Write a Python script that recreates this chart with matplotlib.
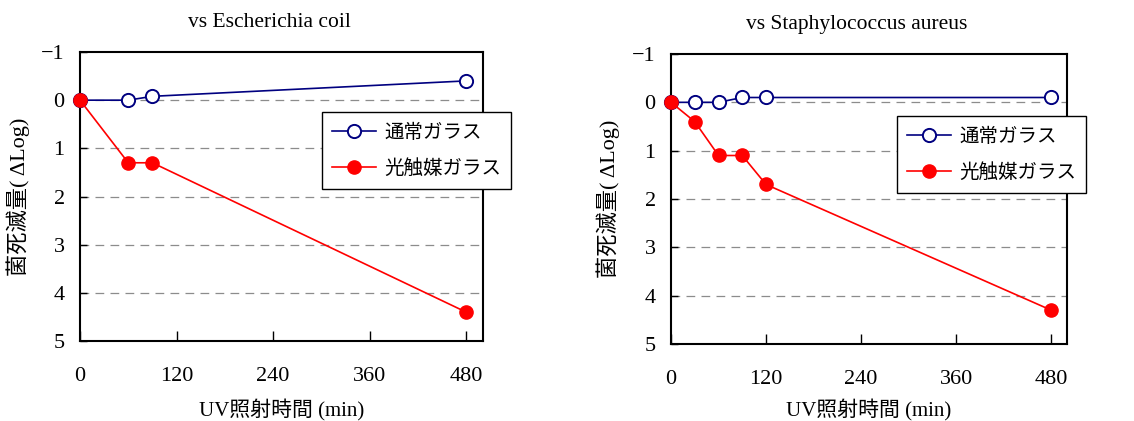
import matplotlib
matplotlib.use("Agg")
import matplotlib.pyplot as plt

plt.rcParams['font.family'] = ['Liberation Serif', 'Noto Sans CJK JP', 'DejaVu Sans']

# data
titles = ["vs Escherichia coil", "vs Staphylococcus aureus"]
ecoli_t_normal = [0, 60, 90, 480]
ecoli_normal = [0, 0, -0.08, -0.4]
ecoli_t_photo = [0, 60, 90, 480]
ecoli_photo = [0, 1.3, 1.3, 4.4]
staph_t_normal = [0, 30, 60, 90, 120, 480]
staph_normal = [0, 0, 0, -0.1, -0.1, -0.1]
staph_t_photo = [0, 30, 60, 90, 120, 480]
staph_photo = [0, 0.4, 1.1, 1.1, 1.7, 4.3]
label_normal = "通常ガラス"
label_photo = "光触媒ガラス"
xticks = [0, 120, 240, 360, 480]
yticks = [-1, 0, 1, 2, 3, 4, 5]
grid_levels = [0, 1, 2, 3, 4]

W, H = 1134, 421
fig = plt.figure(figsize=(W / 100, H / 100), dpi=100)

panels = [
    dict(rect=(80, 52, 483, 341), xmax=501, leg=(322, 112), ylab_x=30,
         tn=ecoli_t_normal, n=ecoli_normal, tp=ecoli_t_photo, p=ecoli_photo),
    dict(rect=(671, 54, 1067, 344), xmax=500, leg=(897, 116), ylab_x=620,
         tn=staph_t_normal, n=staph_normal, tp=staph_t_photo, p=staph_photo),
]

for title, pn in zip(titles, panels):
    l, t, r, b = pn["rect"]
    ax = fig.add_axes([l / W, 1 - b / H, (r - l) / W, (b - t) / H])
    for g in grid_levels:
        ax.axhline(g, color="#8c8c8c", lw=0.9, ls=(0, (7, 5)), zorder=1)
    h1, = ax.plot(pn["tn"], pn["n"], "-o", color="#000080", lw=1.2, ms=9.5, mfc="white",
                  mec="#000080", mew=1.4, label=label_normal, zorder=3, clip_on=False)
    h2, = ax.plot(pn["tp"], pn["p"], "-o", color="#ff0000", lw=1.2, ms=9.5, mfc="#ff0000",
                  mec="#ff0000", label=label_photo, zorder=4, clip_on=False)
    ax.set_xlim(0, pn["xmax"])
    ax.set_ylim(5, -1)
    ax.set_xticks(xticks)
    ax.set_yticks(yticks)
    ax.tick_params(axis="x", direction="in", length=7, width=1, pad=19, labelsize=16)
    ax.tick_params(axis="y", direction="in", length=5, width=1, pad=11, labelsize=16)
    for s in ax.spines.values():
        s.set_linewidth(1.5)
    ax.text(0.47, 1.0 + 30 / (b - t), title, transform=ax.transAxes,
            ha="center", va="center", fontsize=15.5)
    ax.set_ylabel("菌死滅量( ΔLog)", fontsize=16)
    ax.yaxis.set_label_coords((pn["ylab_x"] - l) / (r - l), 0.5)
    ax.set_xlabel("UV照射時間 (min)", fontsize=15)
    ax.xaxis.set_label_coords(0.5, (b - 399) / (b - t))
    lx, ly = pn["leg"]
    leg = fig.legend(handles=[h1, h2], loc="upper left",
                     bbox_to_anchor=(lx / W, 1 - ly / H), bbox_transform=fig.transFigure,
                     borderaxespad=0, fancybox=False, framealpha=1, edgecolor="black",
                     prop={"family": "Noto Sans CJK JP", "size": 14}, handlelength=2.3,
                     handletextpad=0.4, labelspacing=0.8, borderpad=0.5)
    leg.get_frame().set_linewidth(1.0)

fig.savefig("out.png", dpi=100)
